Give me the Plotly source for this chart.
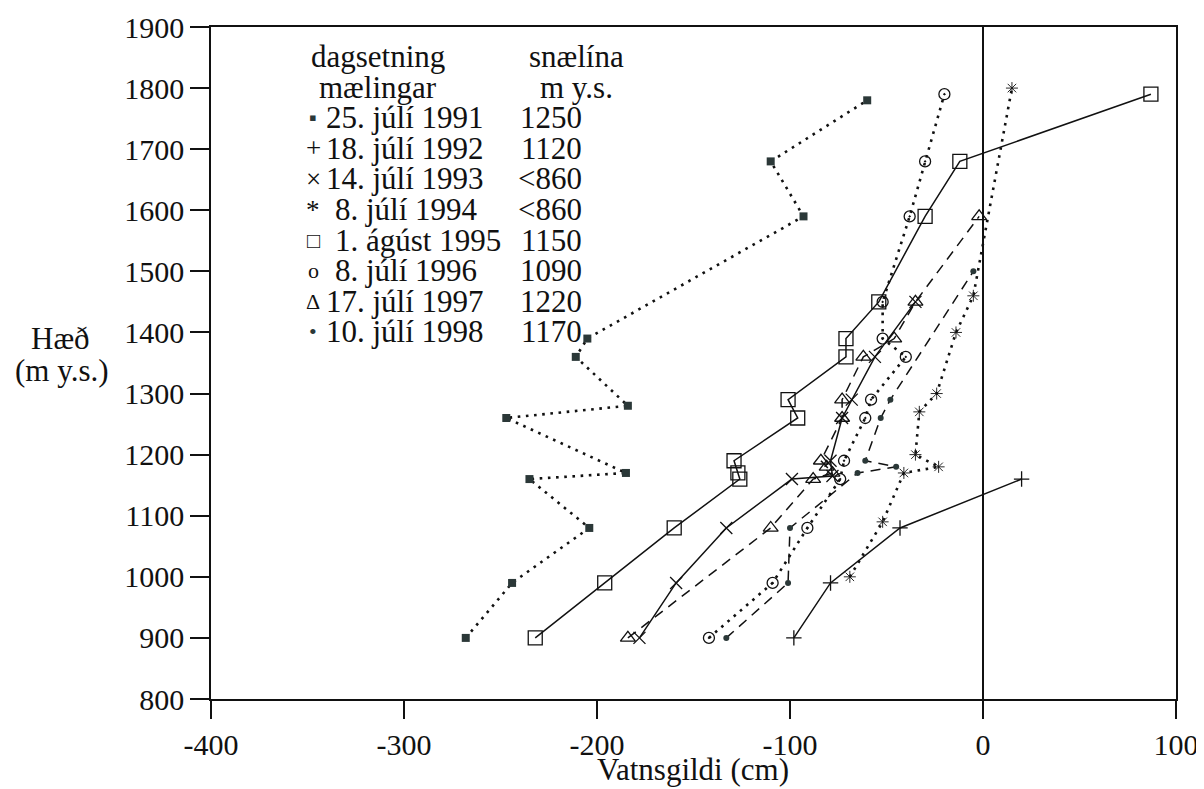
import plotly.graph_objects as go

# ---------------- data ----------------
h1991 = [900, 990, 1080, 1160, 1170, 1260, 1280, 1360, 1390, 1590, 1680, 1780]
v1991 = [-268, -244, -204, -235, -185, -247, -184, -211, -205, -93, -110, -60]

h1992 = [900, 990, 1080, 1160]
v1992 = [-98, -79, -43, 20]

h1993 = [900, 990, 1080, 1160, 1165, 1190, 1260, 1290, 1360, 1450]
v1993 = [-178, -159, -133, -99, -78, -79, -73, -68, -56, -35]

h1994 = [1000, 1090, 1170, 1180, 1200, 1270, 1300, 1400, 1460, 1800]
v1994 = [-69, -52, -41, -23, -35, -33, -24, -14, -5, 15]

h1995 = [900, 990, 1080, 1160, 1170, 1190, 1260, 1290, 1360, 1390, 1450, 1590, 1680, 1790]
v1995 = [-232, -196, -160, -126, -127, -129, -96, -101, -71, -71, -54, -30, -12, 87]

h1996 = [900, 990, 1080, 1160, 1190, 1260, 1290, 1360, 1390, 1450, 1590, 1680, 1790]
v1996 = [-142, -109, -91, -74, -72, -61, -58, -40, -52, -52, -38, -30, -20]

h1997 = [900, 1080, 1160, 1170, 1180, 1190, 1260, 1290, 1360, 1390, 1450, 1590]
v1997 = [-184, -110, -88, -78, -81, -84, -73, -73, -62, -46, -35, -2]

h1998 = [900, 990, 1080, 1170, 1180, 1190, 1260, 1290, 1500]
v1998 = [-133, -101, -100, -65, -45, -61, -53, -48, -5]

legend_glyphs = ["▪", "+", "×", "*", "□", "o", "Δ", "•"]
legend_dates = ["25. júlí 1991", "18. júlí 1992", "14. júlí 1993", "8. júlí 1994",
                "1. ágúst 1995", "8. júlí 1996", "17. júlí 1997", "10. júlí 1998"]
legend_snowline = ["1250", "1120", "&lt;860", "&lt;860", "1150", "1090", "1220", "1170"]

x_tickvals = [-400, -300, -200, -100, 0, 100]
x_ticktext = ["-400", "-300", "-200", "-100", "0", "100"]
y_tickvals = [800, 900, 1000, 1100, 1200, 1300, 1400, 1500, 1600, 1700, 1800, 1900]
y_ticktext = [str(v) for v in y_tickvals]

x_title = "Vatnsgildi (cm)"
y_title_1 = "Hæð"
y_title_2 = "(m y.s.)"
head_date = ["dagsetning", "mælingar"]
head_snow = ["snælína", "m y.s."]

# ---------------- style ----------------
FONT = "Liberation Serif"
INK = "#111111"
DARK = "#2b3838"
OFF = 8                      # page body margin of the html page
W, H = 1204 - OFF, 789 - OFF
PL, PR, PT, PB = 211, 1176, 27, 699   # plot area in screen pixels
L, T = PL - OFF, PT - OFF
R = W - (PR - OFF)
B = H - (PB - OFF)
PW, PH = PR - PL, PB - PT


def px2paper(px, py):
    return (px - PL) / PW, (PB - py) / PH


fig = go.Figure()

series = [
    (v1991, h1991, dict(width=2.6, dash="2.6px,5.6px"), dict(symbol="square", size=8, color=DARK)),
    (v1992, h1992, dict(width=1.5, dash="solid"), dict(symbol="cross-thin-open", size=11, line=dict(width=1.3, color=INK))),
    (v1993, h1993, dict(width=1.5, dash="solid"), dict(symbol="x-thin-open", size=12, line=dict(width=1.3, color=INK))),
    (v1994, h1994, dict(width=2.6, dash="2.6px,5.6px"), dict(symbol="asterisk-open", size=10, line=dict(width=0.9, color=INK))),
    (v1995, h1995, dict(width=1.5, dash="solid"), dict(symbol="square-open", size=14, line=dict(width=1.3, color=INK))),
    (v1996, h1996, dict(width=2.6, dash="2.6px,5.6px"), dict(symbol="circle-open-dot", size=11, line=dict(width=1.3, color=INK))),
    (v1997, h1997, dict(width=1.5, dash="10px,7px"), dict(symbol="triangle-up-open", size=13, line=dict(width=1.3, color=INK))),
    (v1998, h1998, dict(width=1.5, dash="10px,7px"), dict(symbol="circle", size=6, color=DARK)),
]

for xs, ys, ln, mk in series:
    fig.add_trace(go.Scatter(x=xs, y=ys, mode="lines+markers",
                             line=dict(color=INK, **ln), marker=mk,
                             showlegend=False, hoverinfo="skip"))

ann = []
FS = 31
font = dict(family=FONT, size=FS, color=INK)

# headers
for i, t in enumerate(head_date):
    x, y = px2paper(378, 57 + 30.5 * i)
    ann.append(dict(text=t, x=x, y=y, xanchor="center", yanchor="middle"))
for i, t in enumerate(head_snow):
    x, y = px2paper(576, 57 + 30.5 * i)
    ann.append(dict(text=t, x=x, y=y, xanchor="center", yanchor="middle"))

# legend rows
for i, (g, d, s) in enumerate(zip(legend_glyphs, legend_dates, legend_snowline)):
    py = 118 + 30.5 * i
    x, y = px2paper(313, py)
    gsize = 22 if g in ("▪", "•", "o", "□", "Δ") else 27
    ann.append(dict(text=g, x=x, y=y, xanchor="center", yanchor="middle",
                    font=dict(family=FONT, size=gsize, color=DARK if g in ("▪", "•") else INK)))
    indent = 9 if d[1] == "." else 0
    x, y = px2paper(325 + indent, py)
    ann.append(dict(text=d, x=x, y=y, xanchor="left", yanchor="middle"))
    x, y = px2paper(583, py)
    ann.append(dict(text=s, x=x, y=y, xanchor="right", yanchor="middle"))

# axis titles
x, y = px2paper(693, 769)
ann.append(dict(text=x_title, x=x, y=y, xanchor="center", yanchor="middle"))
x, y = px2paper(60, 338)
ann.append(dict(text=y_title_1, x=x, y=y, xanchor="center", yanchor="middle"))
x, y = px2paper(62, 370)
ann.append(dict(text=y_title_2, x=x, y=y, xanchor="center", yanchor="middle"))

for a in ann:
    a.setdefault("font", font)
    a.update(xref="paper", yref="paper", showarrow=False, borderpad=0)

fig.update_layout(
    template="none",
    width=W, height=H,
    margin=dict(l=L, r=R, t=T, b=B, autoexpand=False),
    paper_bgcolor="white", plot_bgcolor="white",
    annotations=ann,
    font=dict(family=FONT, size=30, color=INK),
)
fig.update_xaxes(range=[-400, 100], tickvals=x_tickvals, ticktext=x_ticktext,
                 automargin=False, ticklabeloverflow="allow",
                 ticks="outside", ticklen=18, tickwidth=1.5, tickcolor=INK,
                 showline=True, linewidth=1.5, linecolor=INK, mirror=True,
                 showgrid=False, zeroline=True, zerolinecolor=INK, zerolinewidth=1.5,
                 tickfont=dict(family=FONT, size=30, color=INK))
fig.update_yaxes(range=[800, 1900], tickvals=y_tickvals, ticktext=y_ticktext,
                 automargin=False, ticklabeloverflow="allow",
                 ticks="outside", ticklen=19, tickwidth=1.5, tickcolor=INK,
                 showline=True, linewidth=1.5, linecolor=INK, mirror=True,
                 showgrid=False, zeroline=False,
                 tickfont=dict(family=FONT, size=30, color=INK))

fig.write_html("out.html")
